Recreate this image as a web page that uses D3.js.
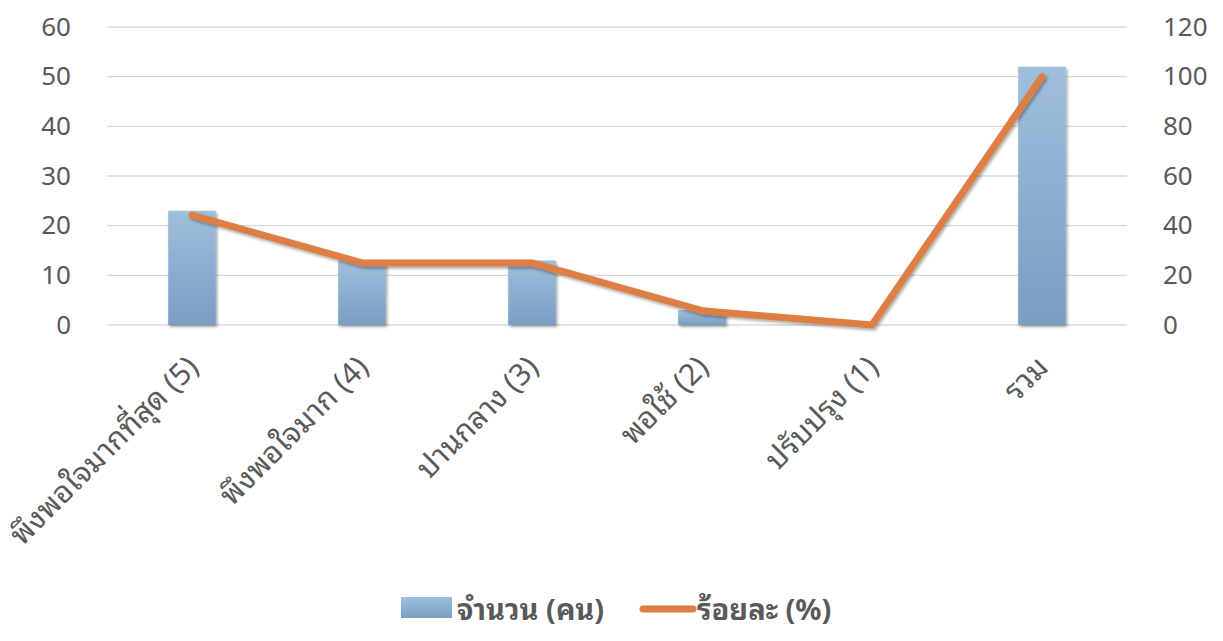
<!DOCTYPE html>
<html><head><meta charset="utf-8">
<script src="https://cdn.jsdelivr.net/npm/d3@7"></script>
<style>
body{margin:0;background:#fff;}
text{font-family:"Noto Sans","Noto Sans Thai Looped","Noto Sans Thai",Tahoma,"DejaVu Sans",sans-serif;fill:#595959;}
</style></head><body>
<svg id="c" width="1223" height="641"></svg>
<script>
const categories = ["พึงพอใจมากที่สุด (5)","พึงพอใจมาก (4)","ปานกลาง (3)","พอใช้ (2)","ปรับปรุง (1)","รวม"];
const counts = [23,13,13,3,0,52];
const percents = [44.23,25,25,5.77,0,100];
const leftTicks = [0,10,20,30,40,50,60];
const rightTicks = [0,20,40,60,80,100,120];
const seriesNames = ["จำนวน (คน)","ร้อยละ (%)"];

const svg = d3.select("#c");
const x0 = 107, x1 = 1127, yTop = 27, yBot = 325;
const x = d3.scaleBand().domain(categories).range([x0,x1]).paddingInner(0.72).paddingOuter(0.36);
const yL = d3.scaleLinear().domain([0,60]).range([yBot,yTop]);
const yR = d3.scaleLinear().domain([0,120]).range([yBot,yTop]);

const defs = svg.append("defs");
const g = defs.append("linearGradient").attr("id","bg").attr("x1",0).attr("y1",0).attr("x2",0).attr("y2",1);
g.append("stop").attr("offset","0%").attr("stop-color","#9fbfdc");
g.append("stop").attr("offset","100%").attr("stop-color","#799ec3");
const f = defs.append("filter").attr("id","sh").attr("x","-20%").attr("y","-20%").attr("width","150%").attr("height","150%");
f.append("feDropShadow").attr("dx",1.5).attr("dy",2).attr("stdDeviation",1.8).attr("flood-color","#000").attr("flood-opacity",0.35);

// gridlines
svg.append("g").selectAll("line").data(leftTicks).join("line")
  .attr("x1",x0).attr("x2",x1).attr("y1",d=>yL(d)).attr("y2",d=>yL(d))
  .attr("stroke","#d9d9d9").attr("stroke-width",1.3);

// left axis
const la = svg.append("g").attr("transform",`translate(${x0},0)`)
  .call(d3.axisLeft(yL).tickValues(leftTicks).tickSize(0).tickPadding(36));
la.select(".domain").remove();
la.selectAll("text").attr("font-size",26).style("fill","#595959");

const ra = svg.append("g").attr("transform",`translate(${x1},0)`)
  .call(d3.axisRight(yR).tickValues(rightTicks).tickSize(0).tickPadding(36));
ra.select(".domain").remove();
ra.selectAll("text").attr("font-size",26).style("fill","#595959");

// bars
svg.append("g").attr("filter","url(#sh)").selectAll("rect").data(counts).join("rect")
  .attr("x",(d,i)=>x(categories[i])).attr("width",x.bandwidth())
  .attr("y",d=>yL(d)).attr("height",d=>yBot-yL(d))
  .attr("fill","url(#bg)");

// line
const line = d3.line().x((d,i)=>x(categories[i])+x.bandwidth()/2).y(d=>yR(d));
svg.append("path").datum(percents).attr("d",line)
  .attr("fill","none").attr("stroke","#dd7f44").attr("stroke-width",7)
  .attr("stroke-linecap","round").attr("stroke-linejoin","round").attr("filter","url(#sh)");

// category labels
svg.append("g").selectAll("text").data(categories).join("text")
  .attr("transform",(d)=>`translate(${x(d)+x.bandwidth()/2+8},${yBot+44}) rotate(-45)`)
  .attr("text-anchor","end").attr("font-size",30).text(d=>d);

// legend
const lg = svg.append("g");
lg.append("rect").attr("x",401).attr("y",597).attr("width",51).attr("height",21).attr("fill","url(#bg)");
lg.append("text").attr("x",457).attr("y",620).attr("font-size",29).attr("font-weight","bold").text(seriesNames[0]);
lg.append("line").attr("x1",643).attr("x2",693).attr("y1",609).attr("y2",609)
  .attr("stroke","#dd7f44").attr("stroke-width",7).attr("stroke-linecap","round");
lg.append("text").attr("x",697).attr("y",620).attr("font-size",29).attr("font-weight","bold").text(seriesNames[1]);
</script></body></html>
